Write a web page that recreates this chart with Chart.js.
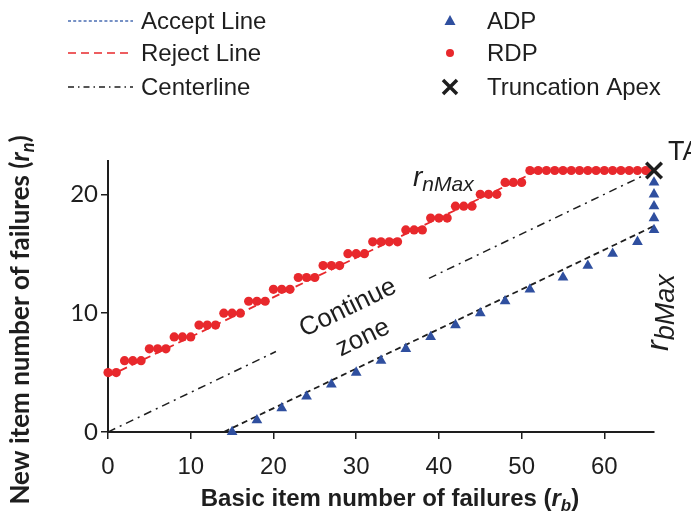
<!DOCTYPE html>
<html>
<head>
<meta charset="utf-8">
<script src="https://cdn.jsdelivr.net/npm/chart.js@4.4.1/dist/chart.umd.min.js"></script>
<style>
  html, body { margin: 0; padding: 0; background: #fff; }
  #wrap { width: 691px; height: 513px; }
</style>
</head>
<body>
<div id="wrap"><canvas id="c" width="691" height="513"></canvas></div>
<script>
// Axis tick labels
const xTicks = [0, 10, 20, 30, 40, 50, 60];
const yTicks = [0, 10, 20];

// Decision lines (x = basic item failures, y = new item failures)
const acceptLineX = [14, 66];
const acceptLineY = [0, 17.33];
const rejectLineX = [0, 52, 66];
const rejectLineY = [4.67, 22, 22];
// Centerline, interrupted where the zone label sits
const centerLineX = [0, 20.3, 30, 38.8, 66];
const centerLineY = [0, 6.77, null, 12.93, 22];

// Acceptance decision points
const adpX = [15, 18, 21, 24, 27, 30, 33, 36, 39, 42, 45, 48, 51, 55, 58, 61, 64, 66, 66, 66, 66, 66];
const adpY = [0, 1, 2, 3, 4, 5, 6, 7, 8, 9, 10, 11, 12, 13, 14, 15, 16, 17, 18, 19, 20, 21];

// Rejection decision points
const rdpX = [0, 1, 2, 3, 4, 5, 6, 7, 8, 9, 10, 11, 12, 13, 14, 15, 16, 17, 18, 19,
              20, 21, 22, 23, 24, 25, 26, 27, 28, 29, 30, 31, 32, 33, 34, 35, 36, 37, 38, 39,
              40, 41, 42, 43, 44, 45, 46, 47, 48, 49, 50, 51, 52, 53, 54, 55, 56, 57, 58, 59,
              60, 61, 62, 63, 64, 65];
const rdpY = [5, 5, 6, 6, 6, 7, 7, 7, 8, 8, 8, 9, 9, 9, 10, 10, 10, 11, 11, 11,
              12, 12, 12, 13, 13, 13, 14, 14, 14, 15, 15, 15, 16, 16, 16, 16, 17, 17, 17, 18,
              18, 18, 19, 19, 19, 20, 20, 20, 21, 21, 21, 22, 22, 22, 22, 22, 22, 22, 22, 22,
              22, 22, 22, 22, 22, 22];

// Truncation apex
const apexX = [66];
const apexY = [22];

const RED = '#e8282c';
const BLUE = '#2f4f9f';
const INK = '#1e1e1e';

const pts = (xs, ys) => xs.map((x, i) => ({ x: x, y: ys[i] }));

const SANS = "'Liberation Sans', Arial, sans-serif";
const CAL = "Lato, 'Open Sans', sans-serif";

// Draws a run of differently styled text pieces left to right
function runWidth(ctx, parts) {
  let w = 0;
  for (const p of parts) { ctx.font = p.font; w += ctx.measureText(p.t).width; }
  return w;
}
function drawRun(ctx, parts, x, y) {
  for (const p of parts) {
    ctx.font = p.font;
    ctx.fillText(p.t, x, y + (p.dy || 0));
    x += ctx.measureText(p.t).width;
  }
}

const textLayer = {
  id: 'textLayer',
  afterDraw(chart) {
    const ctx = chart.ctx;
    ctx.save();
    ctx.fillStyle = INK;
    ctx.textBaseline = 'alphabetic';
    ctx.textAlign = 'left';

    // ---- legend ----
    const lf = '24px ' + SANS;
    const rows = [21, 53, 87];
    // line samples
    const samples = [
      { color: '#4a6db3', dash: [3, 2.2], w: 1.6 },
      { color: RED, dash: [8, 5], w: 1.6 },
      { color: INK, dash: [6, 4, 1.5, 4], w: 1.4 }
    ];
    samples.forEach((s, i) => {
      ctx.save();
      ctx.strokeStyle = s.color;
      ctx.lineWidth = s.w;
      ctx.setLineDash(s.dash);
      ctx.beginPath();
      ctx.moveTo(68, rows[i]);
      ctx.lineTo(133, rows[i]);
      ctx.stroke();
      ctx.restore();
    });
    ctx.font = lf;
    ctx.textBaseline = 'middle';
    ['Accept Line', 'Reject Line', 'Centerline'].forEach((t, i) => ctx.fillText(t, 141, rows[i] + 1));
    ['ADP', 'RDP', 'Truncation Apex'].forEach((t, i) => ctx.fillText(t, 487, rows[i] + 1));
    // marker samples
    ctx.fillStyle = BLUE;
    ctx.beginPath();
    ctx.moveTo(450, rows[0] - 6);
    ctx.lineTo(455.5, rows[0] + 4);
    ctx.lineTo(444.5, rows[0] + 4);
    ctx.closePath();
    ctx.fill();
    ctx.fillStyle = RED;
    ctx.beginPath();
    ctx.arc(450, rows[1], 4, 0, Math.PI * 2);
    ctx.fill();
    ctx.strokeStyle = INK;
    ctx.lineWidth = 3.5;
    ctx.beginPath();
    ctx.moveTo(443, rows[2] - 7); ctx.lineTo(457, rows[2] + 7);
    ctx.moveTo(457, rows[2] - 7); ctx.lineTo(443, rows[2] + 7);
    ctx.stroke();

    ctx.fillStyle = INK;
    ctx.textBaseline = 'alphabetic';

    // ---- x axis title ----
    const xt = [
      { t: 'Basic item number of failures (', font: 'bold 24px ' + SANS },
      { t: 'r', font: 'italic bold 24px ' + SANS },
      { t: 'b', font: 'italic bold 17px ' + SANS, dy: 5 },
      { t: ')', font: 'bold 24px ' + SANS }
    ];
    drawRun(ctx, xt, 390 - runWidth(ctx, xt) / 2, 506);

    // ---- y axis title ----
    const yt = [
      { t: 'New item number of failures (', font: 'bold 26px ' + CAL },
      { t: 'r', font: 'italic bold 26px ' + CAL },
      { t: 'n', font: 'italic bold 18px ' + CAL, dy: 5 },
      { t: ')', font: 'bold 26px ' + CAL }
    ];
    ctx.save();
    ctx.translate(29, 320);
    ctx.rotate(-Math.PI / 2);
    drawRun(ctx, yt, -runWidth(ctx, yt) / 2, 0);
    ctx.restore();

    // ---- annotations ----
    ctx.font = '27px ' + SANS;
    ctx.fillText('TA', 668, 160);

    drawRun(ctx, [
      { t: 'r', font: 'italic 28px ' + SANS },
      { t: 'nMax', font: 'italic 21px ' + SANS, dy: 5 }
    ], 413, 186);

    ctx.save();
    ctx.translate(668, 351);
    ctx.rotate(-Math.PI / 2);
    drawRun(ctx, [
      { t: 'r', font: 'italic 32px ' + SANS },
      { t: 'bMax', font: 'italic 27px ' + SANS, dy: 6 }
    ], 0, 0);
    ctx.restore();

    const ang = -26 * Math.PI / 180;
    ctx.font = '26px ' + SANS;
    ctx.textAlign = 'center';
    ctx.textBaseline = 'middle';
    ctx.save();
    ctx.translate(348, 308);
    ctx.rotate(ang);
    ctx.fillText('Continue', 0, 0);
    ctx.restore();
    ctx.save();
    ctx.translate(363, 338);
    ctx.rotate(ang);
    ctx.fillText('zone', 0, 0);
    ctx.restore();

    ctx.restore();
  }
};

const axisCommon = {
  type: 'linear',
  border: { color: INK, width: 2 },
  grid: { display: true, drawOnChartArea: false, drawTicks: true, tickLength: 7, color: INK, lineWidth: 1.5 }
};

new Chart(document.getElementById('c'), {
  type: 'scatter',
  data: {
    datasets: [
      {
        label: 'Truncation Apex', data: pts(apexX, apexY), order: 0, clip: false,
        pointStyle: 'crossRot', pointRadius: 11, pointBorderWidth: 3.5,
        borderColor: INK, backgroundColor: INK, showLine: false
      },
      {
        label: 'ADP', data: pts(adpX, adpY), order: 1, clip: false,
        pointStyle: 'triangle', pointRadius: 6.2, pointBorderWidth: 0,
        backgroundColor: BLUE, borderColor: BLUE, showLine: false
      },
      {
        label: 'RDP', data: pts(rdpX, rdpY), order: 2, clip: false,
        pointStyle: 'circle', pointRadius: 4.6, pointBorderWidth: 0,
        backgroundColor: RED, borderColor: RED, showLine: false
      },
      {
        label: 'Accept Line', data: pts(acceptLineX, acceptLineY), order: 5,
        showLine: true, borderColor: INK, borderWidth: 1.8, borderDash: [6, 4],
        pointRadius: 0, fill: false
      },
      {
        label: 'Reject Line', data: pts(rejectLineX, rejectLineY), order: 5,
        showLine: true, borderColor: RED, borderWidth: 1.8, borderDash: [8, 5],
        pointRadius: 0, fill: false
      },
      {
        label: 'Centerline', data: pts(centerLineX, centerLineY), order: 6,
        showLine: true, spanGaps: false, borderColor: INK, borderWidth: 1.5,
        borderDash: [8, 5, 2, 5], pointRadius: 0, fill: false
      }
    ]
  },
  options: {
    responsive: false,
    animation: false,
    devicePixelRatio: 1,
    layout: { padding: { top: 161, right: 37, left: 0, bottom: 0 } },
    plugins: { legend: { display: false }, tooltip: { enabled: false } },
    scales: {
      x: Object.assign({}, axisCommon, {
        position: 'bottom', min: 0, max: 66,
        ticks: { color: INK, font: { family: SANS, size: 24 }, padding: 14, maxRotation: 0 },
        afterBuildTicks: s => { s.ticks = xTicks.map(v => ({ value: v })); },
        afterFit: s => { s.height = 81; }
      }),
      y: Object.assign({}, axisCommon, {
        position: 'left', min: 0, max: 22.8,
        ticks: { color: INK, font: { family: CAL, size: 24 }, padding: 3 },
        afterBuildTicks: s => { s.ticks = yTicks.map(v => ({ value: v })); },
        afterFit: s => { s.width = 108; }
      })
    }
  },
  plugins: [textLayer]
});
</script>
</body>
</html>
